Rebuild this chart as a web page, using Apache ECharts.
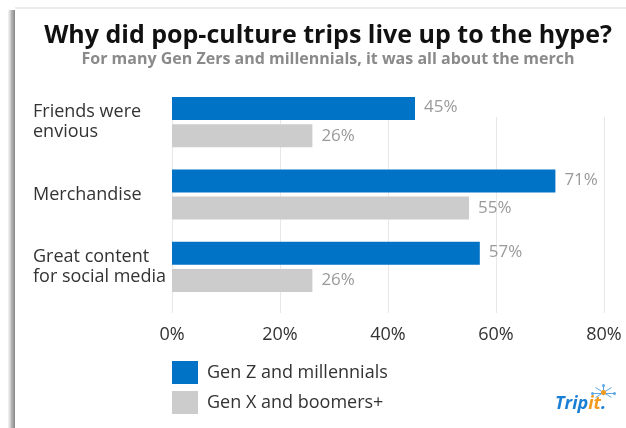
<!DOCTYPE html>
<html><head><meta charset="utf-8">
<script src="https://cdn.jsdelivr.net/npm/echarts@6/dist/echarts.min.js"></script>
<style>html,body{margin:0;padding:0;background:#fff}#c{width:626px;height:428px}</style>
</head><body><div id="c"></div>
<script>
const categories = ['Friends were\nenvious', 'Merchandise', 'Great content\nfor social media'];
const genZ = [45, 71, 57];
const genX = [26, 55, 26];
const seriesNames = ['Gen Z and millennials', 'Gen X and boomers+'];
const xTicks = [0, 20, 40, 60, 80];

const FONT = '"Open Sans", Lato, sans-serif';
const chart = echarts.init(document.getElementById('c'), null, {renderer: 'canvas'});
chart.setOption({
  backgroundColor: '#fff',
  animation: false,
  title: [{
    text: 'Why did pop-culture trips live up to the hype?',
    left: 323, textAlign: 'center', top: 18,
    textStyle: {fontFamily: FONT, fontWeight: 'bold', fontSize: 25, color: '#111'}
  }, {
    text: 'For many Gen Zers and millennials, it was all about the merch',
    left: 323, textAlign: 'center', top: 46,
    textStyle: {fontFamily: FONT, fontWeight: 'bold', fontSize: 16, color: '#8a8a8a'}
  }],
  legend: {
    orient: 'vertical', left: 167, top: 356,
    itemWidth: 26, itemHeight: 23, itemGap: 7,
    icon: 'rect',
    textStyle: {fontFamily: FONT, fontSize: 18, color: '#333', padding: [0,0,0,4]},
    data: seriesNames
  },
  grid: [
    {left: 172, right: 22, top: 86, height: 217},
    {left: 172, right: 22, top: 117, bottom: 115}
  ],
  xAxis: [
    {gridIndex: 0, type: 'value', min: 0, max: 80, interval: 20, show: false},
    {gridIndex: 1, type: 'value', min: xTicks[0], max: xTicks[xTicks.length-1], interval: 20,
     axisLine: {show: false}, axisTick: {show: false},
     splitLine: {lineStyle: {color: '#e8e8e8', width: 1}},
     axisLabel: {formatter: '{value}%', fontFamily: FONT, fontSize: 18, color: '#333', margin: 13,
       alignMinLabel: 'center', alignMaxLabel: 'center'}}
  ],
  yAxis: [
    {gridIndex: 0, type: 'category', data: categories, inverse: true,
     axisLine: {show: false}, axisTick: {show: false}, splitLine: {show: false},
     axisLabel: {align: 'left', margin: 139, fontFamily: FONT, fontSize: 18, color: '#333', lineHeight: 20}},
    {gridIndex: 1, type: 'category', data: categories, show: false}
  ],
  series: [
    {name: seriesNames[0], type: 'bar', xAxisIndex: 0, yAxisIndex: 0, data: genZ,
     barWidth: 23, barGap: '18%', z: 3,
     itemStyle: {color: '#0073c7'},
     label: {show: true, position: 'right', distance: 9, formatter: '{c}%',
       fontFamily: FONT, fontSize: 17, color: '#9a9a9a', offset: [0, -1]}},
    {name: seriesNames[1], type: 'bar', xAxisIndex: 0, yAxisIndex: 0, data: genX,
     barWidth: 23, z: 3,
     itemStyle: {color: '#cccccc'},
     label: {show: true, position: 'right', distance: 9, formatter: '{c}%',
       fontFamily: FONT, fontSize: 17, color: '#9a9a9a'}}
  ],
  graphic: [
    {type: 'rect', left: 8, top: 10, z: 10, shape: {width: 7, height: 418},
     style: {fill: new echarts.graphic.LinearGradient(0, 0, 1, 0, [
       {offset: 0, color: 'rgba(200,200,200,0.2)'},
       {offset: 0.5, color: 'rgba(150,150,150,0.7)'},
       {offset: 1, color: 'rgba(120,120,120,0.9)'}])}},
    {type: 'rect', left: 15, top: 7, z: 10, shape: {width: 611, height: 2},
     style: {fill: 'rgba(220,220,220,0.5)'}},
    {type: 'text', left: 555, top: 395, z: 10,
     style: {rich: {a: {fill: '#1a7fd4', fontSize: 18, fontWeight: 'bold', fontStyle: 'italic', fontFamily: FONT},
                    b: {fill: '#f39a1e', fontSize: 18, fontWeight: 'bold', fontStyle: 'italic', fontFamily: FONT}},
       text: '{a|Trip}{b|it}{a|.}'}},
    {type: 'group', left: 590, top: 383, z: 10, children: [
      {type: 'line', shape: {x1: 0, y1: 8, x2: 22, y2: 8}, style: {stroke: '#5aa9e6', lineWidth: 1}},
      {type: 'line', shape: {x1: 11, y1: 0, x2: 11, y2: 10}, style: {stroke: '#5aa9e6', lineWidth: 1}},
      {type: 'line', shape: {x1: 3, y1: 2, x2: 19, y2: 12}, style: {stroke: '#5aa9e6', lineWidth: 1}},
      {type: 'line', shape: {x1: 19, y1: 2, x2: 3, y2: 12}, style: {stroke: '#5aa9e6', lineWidth: 1}},
      {type: 'circle', shape: {cx: 11, cy: 7, r: 2.5}, style: {fill: '#f39a1e'}},
      {type: 'circle', shape: {cx: 0, cy: 8, r: 1.5}, style: {fill: '#5aa9e6'}},
      {type: 'circle', shape: {cx: 22, cy: 8, r: 1.5}, style: {fill: '#5aa9e6'}},
      {type: 'circle', shape: {cx: 11, cy: 0, r: 1.5}, style: {fill: '#5aa9e6'}}
    ]}
  ]
});
</script></body></html>
